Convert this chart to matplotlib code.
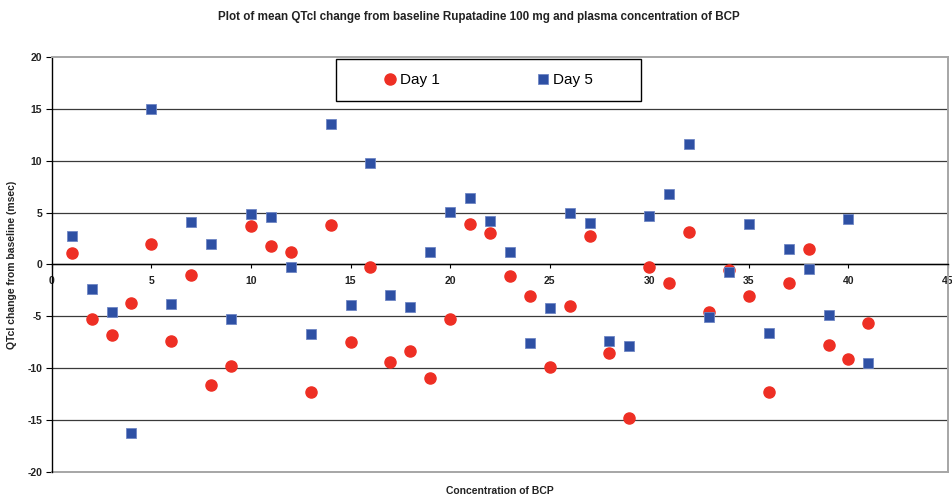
import matplotlib
matplotlib.use("Agg")
import matplotlib.pyplot as plt
from matplotlib.patches import Rectangle
import numpy as np

plt.rcParams['font.family'] = ['Liberation Sans', 'DejaVu Sans']
plt.rcParams['axes.unicode_minus'] = False

# subject index along the concentration axis
conc = np.arange(1, 42)

day1 = [1.1, -5.2, -6.8, -3.7, 2.0, -7.4, -1.0, -11.6, -9.8, 3.7,
        1.8, 1.2, -12.3, 3.8, -7.5, -0.2, -9.4, -8.3, -10.9, -5.2,
        3.9, 3.0, -1.1, -3.0, -9.9, -4.0, 2.7, -8.5, -14.8, -0.2,
        -1.8, 3.1, -4.6, -0.5, -3.0, -12.3, -1.8, 1.5, -7.7, -9.1,
        -5.6]
day5 = [2.7, -2.4, -4.6, -16.2, 15.0, -3.8, 4.1, 2.0, -5.2, 4.9,
        4.6, -0.2, -6.7, 13.5, -3.9, 9.8, -2.9, -4.1, 1.2, 5.1,
        6.4, 4.2, 1.2, -7.6, -4.2, 5.0, 4.0, -7.4, -7.8, 4.7,
        6.8, 11.6, -5.1, -0.7, 3.9, -6.6, 1.5, -0.4, -4.9, 4.4,
        -9.5]

red = '#ee2f24'
blue = '#2e50a4'
frame_grey = '#a6a6a6'

fig = plt.figure(figsize=(9.53, 4.99), dpi=100)
ax = fig.add_axes([0.0543, 0.0535, 0.9405, 0.8329])

ax.plot(conc, day1, 'o', color=red, ms=8, mec=red, label='Day 1', zorder=3)
ax.plot(conc, day5, 's', color=blue, ms=7.5, mec='#6f86c4', mew=0.6,
        label='Day 5', zorder=4)

ax.set_xlim(0, 45)
ax.set_ylim(-20, 20)
ax.set_xticks(np.arange(0, 46, 5))
ax.set_yticks(np.arange(-20, 21, 5))

ax.yaxis.grid(True, color='#3a3a3a', lw=0.9)
gl = ax.get_ygridlines()
gl[0].set_visible(False)
gl[-1].set_visible(False)

# x axis runs through zero, box edges are grey
ax.spines['bottom'].set_position(('data', 0))
ax.spines['bottom'].set_color('black')
ax.spines['bottom'].set_linewidth(1.0)
ax.spines['left'].set_color('black')
ax.spines['left'].set_linewidth(1.0)
for s in ('top', 'right'):
    ax.spines[s].set_color(frame_grey)
    ax.spines[s].set_linewidth(1.4)
ax.axhline(-20, color=frame_grey, lw=1.4, clip_on=False, zorder=2.5)

ax.tick_params(axis='x', direction='out', length=3, width=0.8, pad=5,
               labelsize=7.5, colors='black')
ax.tick_params(axis='y', direction='out', length=4, width=0.8, pad=3,
               labelsize=7.5)
for lab in ax.get_xticklabels() + ax.get_yticklabels():
    lab.set_fontweight('bold')
    lab.set_color('#222222')

ax.set_ylabel('QTcl change from baseline (msec)', fontsize=7.5,
              fontweight='bold', color='#222222')
ax.yaxis.set_label_coords(-0.0385, 0.5)
ax.text(0.5, -0.045, 'Concentration of BCP', transform=ax.transAxes,
        ha='center', va='center', fontsize=7.5, fontweight='bold',
        color='#222222')

fig.text(0.502, 0.965, 'Plot of mean QTcl change from baseline Rupatadine 100 mg '
         'and plasma concentration of BCP', ha='center', va='center',
         fontsize=8.4, fontweight='bold', color='#222222')

# legend box
ax.add_patch(Rectangle((0.317, 0.893), 0.34, 0.1015, transform=ax.transAxes,
                       facecolor='white', edgecolor='black', lw=1.0, zorder=5))
ax.legend(loc='center', bbox_to_anchor=(0.487, 0.944), ncol=2, frameon=False,
          fontsize=11, handlelength=0.85, handletextpad=0.2,
          columnspacing=6.35, borderpad=0.2).set_zorder(6)

fig.savefig('out.png', dpi=100)
